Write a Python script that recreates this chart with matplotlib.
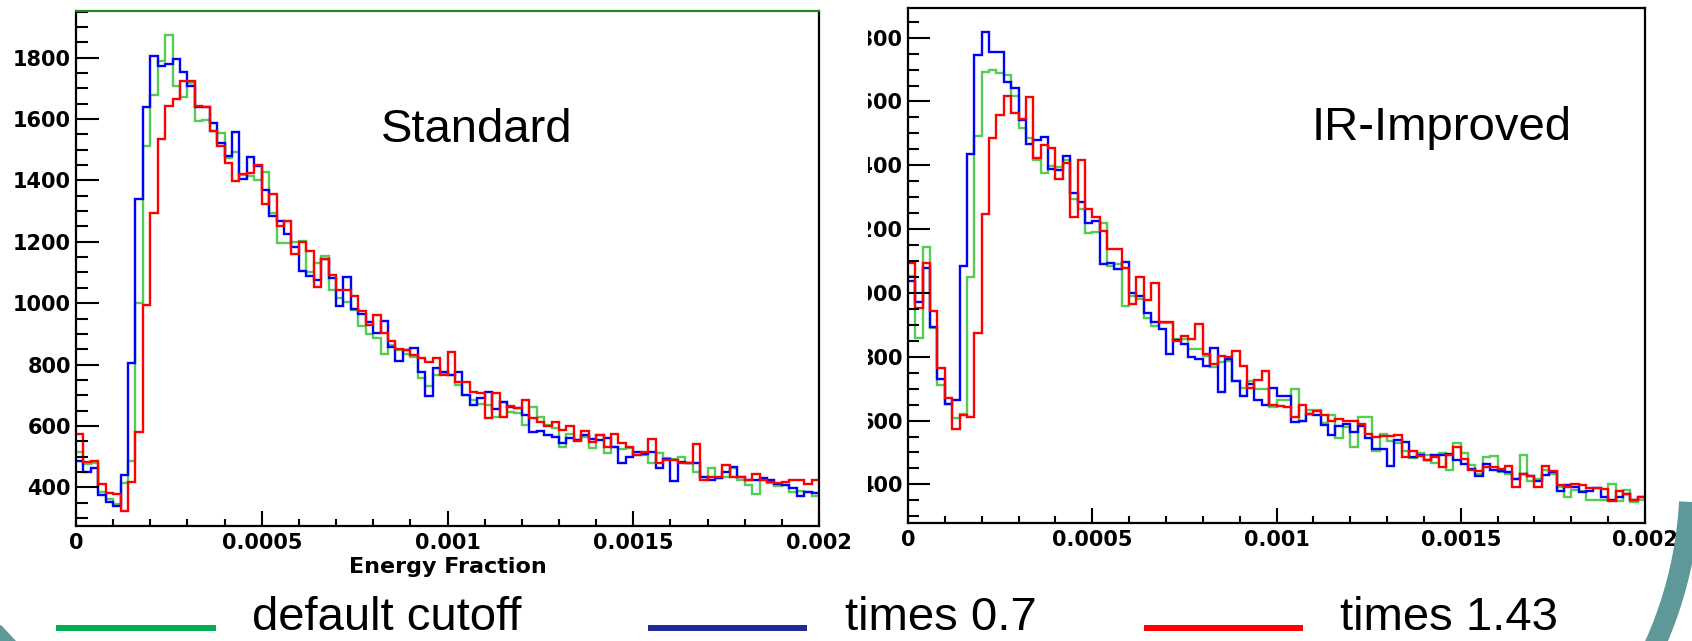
import numpy as np
import matplotlib
matplotlib.use("Agg")
import matplotlib.pyplot as plt
from matplotlib.patches import Arc, Polygon
from matplotlib.transforms import Bbox, TransformedBbox

# ---------------- data ----------------
n_bins = 100
x_min, x_max = 0.0, 0.002
x_ticks = [0, 0.0005, 0.001, 0.0015, 0.002]
x_tick_labels = ["0", "0.0005", "0.001", "0.0015", "0.002"]
y_ticks = [400, 600, 800, 1000, 1200, 1400, 1600, 1800]
x_label = "Energy Fraction"
panel_titles = ["Standard", "IR-Improved"]
legend_labels = ["default cutoff", "times 0.7", "times 1.43"]

std_default = [516, 476, 478, 386, 361, 346, 413, 486, 1000, 1513,
               1678, 1789, 1874, 1708, 1673, 1716, 1592, 1597, 1561, 1554,
               1472, 1494, 1418, 1415, 1401, 1427, 1295, 1195, 1195, 1200,
               1201, 1100, 1130, 1154, 1043, 1018, 1003, 978, 926, 900,
               885, 834, 864, 847, 836, 826, 755, 730, 766, 769,
               766, 733, 701, 684, 671, 668, 630, 679, 646, 641,
               603, 663, 630, 603, 592, 532, 574, 554, 565, 527,
               570, 511, 532, 525, 527, 505, 505, 478, 513, 494,
               491, 500, 478, 451, 435, 462, 429, 435, 462, 424,
               408, 378, 424, 415, 404, 408, 386, 389, 386, 372]
std_x07 = [486, 451, 462, 375, 353, 339, 440, 804, 1339, 1640,
           1805, 1774, 1779, 1797, 1754, 1708, 1638, 1638, 1586, 1523,
           1480, 1559, 1404, 1475, 1448, 1369, 1284, 1269, 1226, 1182,
           1106, 1090, 1076, 1143, 1081, 991, 1085, 980, 964, 938,
           902, 943, 858, 811, 847, 855, 777, 699, 788, 777,
           766, 775, 701, 668, 690, 711, 654, 679, 663, 657,
           636, 581, 585, 570, 563, 543, 560, 554, 570, 556,
           554, 560, 532, 478, 500, 516, 509, 516, 464, 491,
           421, 484, 480, 478, 435, 424, 429, 451, 467, 435,
           424, 424, 429, 424, 411, 408, 399, 372, 386, 383]
std_x143 = [574, 484, 487, 410, 380, 377, 324, 418, 581, 993,
            1293, 1535, 1643, 1665, 1724, 1725, 1643, 1638, 1561, 1513,
            1458, 1398, 1420, 1423, 1450, 1323, 1356, 1252, 1269, 1160,
            1198, 1171, 1054, 1143, 1092, 1043, 1043, 1024, 973, 929,
            962, 904, 878, 850, 847, 831, 823, 809, 820, 766,
            842, 744, 744, 712, 706, 625, 706, 630, 665, 657,
            684, 625, 614, 600, 614, 587, 600, 551, 583, 549,
            570, 532, 574, 543, 532, 505, 516, 556, 478, 489,
            489, 480, 480, 541, 424, 435, 435, 473, 435, 435,
            424, 443, 424, 418, 415, 418, 424, 424, 411, 424]

ir_default = [1052, 859, 1144, 889, 711, 651, 607, 620, 1050, 1491,
              1691, 1699, 1690, 1684, 1616, 1517, 1486, 1416, 1376, 1397,
              1395, 1418, 1293, 1264, 1189, 1192, 1218, 1085, 1090, 960,
              990, 980, 923, 897, 905, 905, 855, 855, 824, 824,
              803, 767, 785, 787, 725, 702, 725, 699, 700, 644,
              663, 663, 700, 600, 634, 634, 592, 616, 544, 580,
              517, 612, 612, 506, 558, 537, 529, 506, 482, 498,
              493, 467, 498, 444, 529, 498, 460, 433, 486, 489,
              438, 433, 418, 493, 412, 418, 444, 433, 392, 360,
              381, 378, 352, 350, 352, 402, 348, 381, 345, 350]
ir_x07 = [1036, 972, 1078, 894, 729, 651, 665, 1083, 1435, 1746,
          1817, 1754, 1754, 1662, 1642, 1543, 1467, 1480, 1488, 1387,
          1385, 1428, 1314, 1285, 1218, 1227, 1092, 1095, 1076, 1098,
          999, 989, 936, 908, 887, 808, 852, 840, 798, 793,
          772, 829, 689, 793, 725, 678, 715, 663, 650, 702,
          678, 678, 595, 600, 621, 616, 585, 555, 584, 590,
          564, 584, 544, 512, 512, 459, 540, 532, 485, 491,
          475, 491, 491, 494, 475, 465, 449, 425, 465, 444,
          442, 438, 418, 431, 425, 412, 430, 438, 378, 397,
          392, 375, 378, 389, 360, 350, 360, 371, 350, 360]
ir_x143 = [1095, 953, 1095, 944, 764, 672, 574, 618, 612, 873,
           1248, 1487, 1558, 1618, 1564, 1545, 1614, 1423, 1465, 1455,
           1358, 1407, 1239, 1416, 1264, 1239, 1194, 1137, 1137, 1079,
           965, 1050, 978, 1032, 908, 908, 850, 864, 855, 902,
           808, 777, 803, 798, 817, 772, 702, 728, 756, 650,
           645, 642, 610, 650, 621, 629, 616, 600, 605, 600,
           598, 590, 558, 548, 553, 553, 556, 485, 506, 488,
           475, 485, 454, 491, 517, 480, 444, 442, 456, 456,
           449, 457, 392, 433, 425, 392, 459, 442, 397, 392,
           400, 399, 390, 389, 386, 348, 379, 371, 350, 362]

hist_colors = ["#55cc55", "#0000ff", "#ff0000"]
legend_colors = ["#00b050", "#202a96", "#ff0000"]
teal = "#5f9898"

# ---------------- figure ----------------
W, H = 1692, 641
fig = plt.figure(figsize=(W / 100, H / 100), dpi=100)
fig.patch.set_facecolor("white")


def px_axes(x0, y0, x1, y1):
    return fig.add_axes([x0 / W, 1 - y1 / H, (x1 - x0) / W, (y1 - y0) / H])


edges = np.linspace(x_min, x_max, n_bins + 1)
tick_font = dict(family="DejaVu Sans", weight="bold", size=15)


def style_panel(ax, ylim, ymaj_len, ymin_len):
    ax.set_xlim(x_min, x_max)
    ax.set_ylim(*ylim)
    ax.set_xticks(x_ticks)
    ax.set_xticklabels(x_tick_labels, fontdict=tick_font)
    ax.set_yticks(y_ticks)
    ax.set_yticklabels([str(v) for v in y_ticks], fontdict=tick_font)
    ax.xaxis.set_minor_locator(matplotlib.ticker.MultipleLocator(0.0001))
    ax.yaxis.set_minor_locator(matplotlib.ticker.MultipleLocator(50))
    ax.tick_params(axis="x", which="major", direction="in", length=10.8,
                   width=1.5, pad=5, top=False)
    ax.tick_params(axis="x", which="minor", direction="in", length=5.2,
                   width=1.5, top=False)
    ax.tick_params(axis="y", which="major", direction="in", length=ymaj_len,
                   width=1.5, pad=3.6, right=False)
    ax.tick_params(axis="y", which="minor", direction="in", length=ymin_len,
                   width=1.5, right=False)
    for s in ax.spines.values():
        s.set_linewidth(1.6)
        s.set_color("black")


series_std = [std_default, std_x07, std_x143]
series_ir = [ir_default, ir_x07, ir_x143]

axL = px_axes(76, 11, 819, 526)
for vals, c in zip(series_std, hist_colors):
    axL.stairs(vals, edges, baseline=None, color=c, lw=1.7)
style_panel(axL, (274, 1952), 16.5, 8.6)
axL.spines["top"].set_color("#1f8a1f")

axR = px_axes(908, 8, 1645, 523)
for vals, c in zip(series_ir, hist_colors):
    axR.stairs(vals, edges, baseline=None, color=c, lw=1.7)
style_panel(axR, (279, 1893), 15.8, 7.9)

# right panel y labels are cut off on their left side in the original
clip_bb = TransformedBbox(Bbox([[868 / W, 0], [1, 1]]), fig.transFigure)
for lab in axR.get_yticklabels():
    lab.set_clip_box(clip_bb)
    lab.set_clip_on(True)

fig.text(447.5 / W, 1 - 573 / H, x_label, ha="center", va="baseline",
         family="DejaVu Sans", weight="bold", size=16)

# ---------------- overlay (titles, legend, decoration) ----------------
ov = fig.add_axes([0, 0, 1, 1], zorder=10)
ov.set_xlim(0, W)
ov.set_ylim(0, H)
ov.axis("off")

title_font = dict(family="Liberation Sans", size=34)
ov.text(381, H - 141.7, panel_titles[0], ha="left", va="baseline", **title_font)
ov.text(1312, H - 140, panel_titles[1], ha="left", va="baseline", **title_font)

leg_lines = [(56, 216), (648, 807), (1144, 1303)]
leg_text_x = [252, 845, 1340]
for (a, b), tx, lab, c in zip(leg_lines, leg_text_x, legend_labels, legend_colors):
    ov.plot([a, b], [H - 628, H - 628], color=c, lw=4.3, solid_capstyle="butt")
    ov.text(tx, 1, lab, ha="left", va="bottom", **title_font)

ov.add_patch(Arc((1290, 160), 800, 800, theta1=-34, theta2=-3, color=teal,
                 lw=15, clip_on=True))
ov.add_patch(Polygon([(0, H - 625), (0, 0), (15, 0)], closed=True,
                     color=teal, clip_on=True))

fig.savefig("out.png", dpi=100, facecolor="white")
